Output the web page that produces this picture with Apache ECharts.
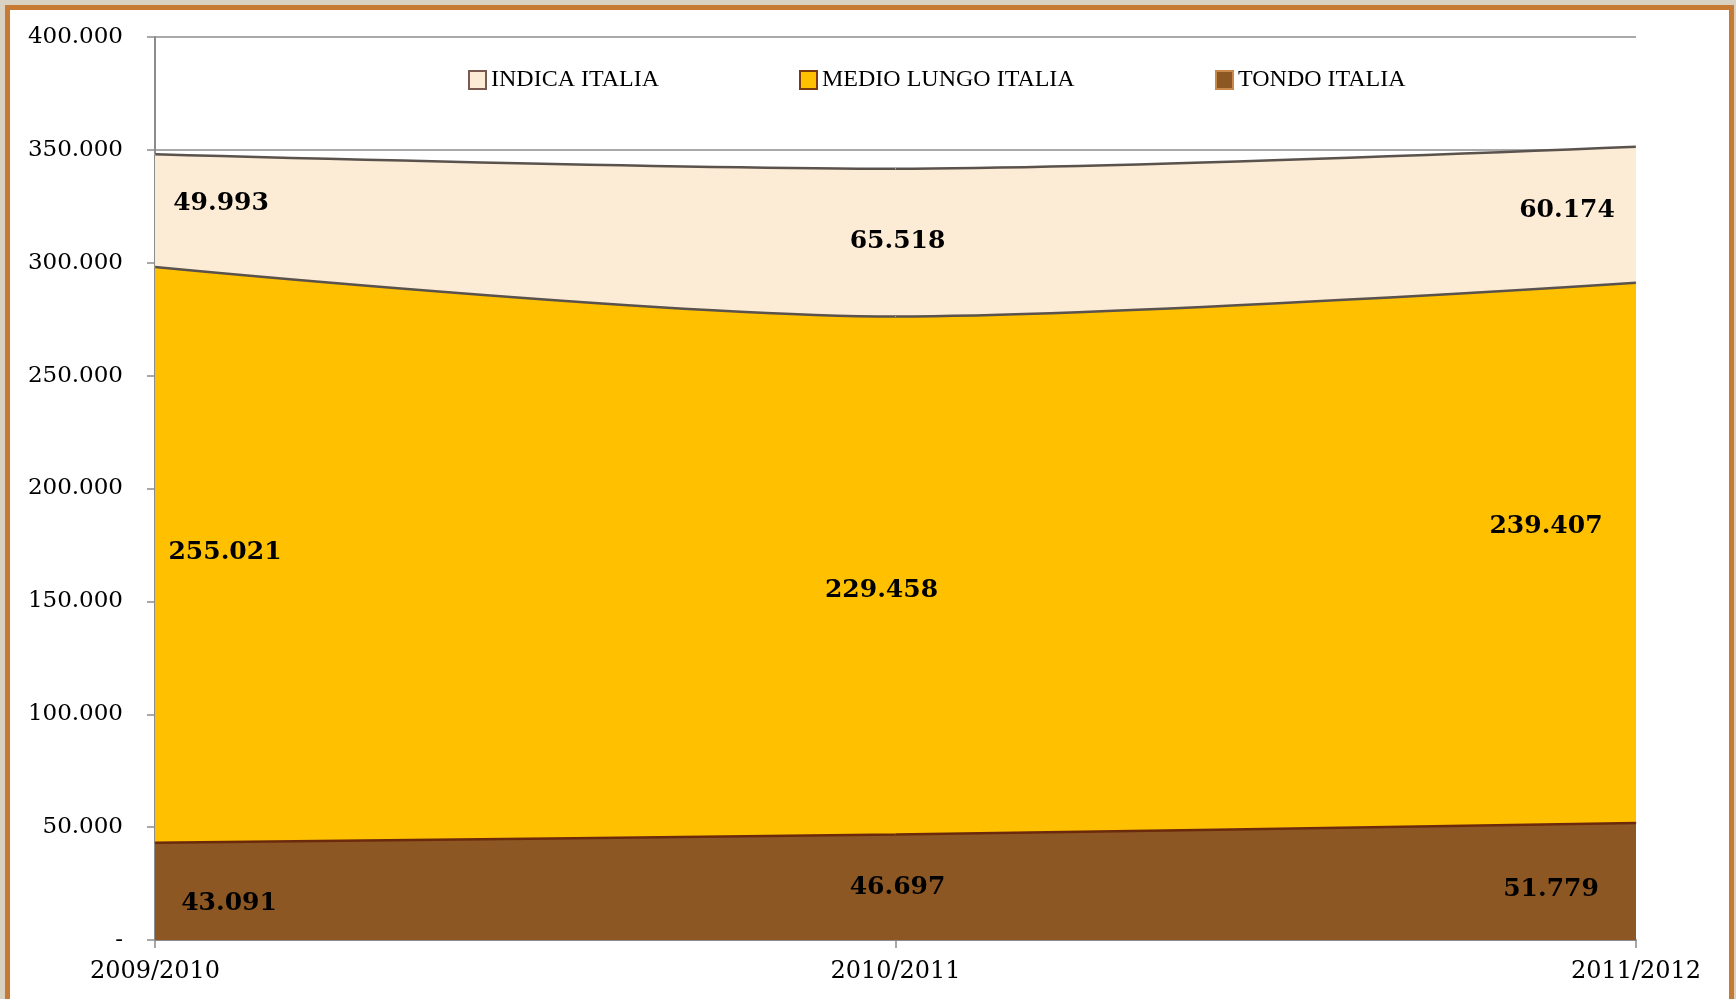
<!DOCTYPE html>
<html>
<head>
<meta charset="utf-8">
<script src="https://cdn.jsdelivr.net/npm/echarts@6.0.0/dist/echarts.min.js"></script>
<style>
    html, body { margin: 0; padding: 0; background: #d9d2c2; width: 1736px; height: 999px; overflow: hidden; }
    #panel { position: absolute; left: 5px; top: 5px; width: 1729px; height: 1100px; box-sizing: border-box;
             border: 5px solid #c67a33; background: #ffffff; }
    #chart { position: absolute; left: 0; top: 0; width: 1736px; height: 999px; }
</style>
</head>
<body>
<div id="panel"></div>
<div id="chart"></div>
<script>
var categories = ['2009/2010', '2010/2011', '2011/2012'];
var tondo = [43091, 46697, 51779];
var medioLungo = [255021, 229458, 239407];
var indica = [49993, 65518, 60174];
var legendNames = ['INDICA ITALIA', 'MEDIO LUNGO ITALIA', 'TONDO ITALIA'];

// where the value labels sit, relative to the stacked point
var tondoOffsets = [[74, 61], [2, 53], [-85, 66]];
var medioOffsets = [[70, 285], [-14, 274], [-90, 244]];
var indicaOffsets = [[66, 49], [2, 73], [-69, 64]];

function fmt(v) {
    if (v == 0) return '-';
    return String(v).replace(/\B(?=(\d{3})+(?!\d))/g, '.');
}

function withLabels(values, offsets) {
    var out = [];
    for (var i = 0; i < values.length; i++) {
        out.push({ value: values[i], label: { offset: offsets[i] } });
    }
    return out;
}

function makeSeries(name, values, offsets, fill, edge, z) {
    return {
        name: name,
        type: 'line',
        stack: 'total',
        smooth: 0.3,
        z: z,
        symbol: 'circle',
        symbolSize: 1,
        itemStyle: { color: fill },
        lineStyle: { color: edge, width: 2.5 },
        areaStyle: { color: fill, opacity: 1 },
        emphasis: { disabled: true },
        label: {
            show: true,
            position: 'inside',
            align: 'center',
            verticalAlign: 'middle',
            color: '#000',
            fontFamily: 'DejaVu Serif',
            fontWeight: 'bold',
            fontSize: 25,
            formatter: function (p) { return fmt(p.value); }
        },
        data: withLabels(values, offsets)
    };
}

var myChart = echarts.init(document.getElementById('chart'), null, { renderer: 'canvas' });

var legendBase = {
    icon: 'rect',
    itemWidth: 17,
    itemHeight: 18,
    top: 63,
    textStyle: { fontFamily: 'Liberation Serif', fontSize: 24, color: '#000' }
};

var option = {
    backgroundColor: 'transparent',
    animation: false,
    grid: { left: 155, top: 37, right: 100, bottom: 59 },
    legend: [
        Object.assign({}, legendBase, { left: 463, data: [{ name: legendNames[0], itemStyle: { color: '#fcebd5', borderColor: '#7a5a50', borderWidth: 2 } }] }),
        Object.assign({}, legendBase, { left: 794, data: [{ name: legendNames[1], itemStyle: { color: '#ffc000', borderColor: '#7a3a10', borderWidth: 2 } }] }),
        Object.assign({}, legendBase, { left: 1210, data: [{ name: legendNames[2], itemStyle: { color: '#8c5722', borderColor: '#c8894a', borderWidth: 2 } }] })
    ],
    xAxis: {
        type: 'category',
        boundaryGap: false,
        data: categories,
        axisLine: { lineStyle: { color: '#8c8c8c', width: 2 } },
        axisTick: { show: true, length: 8, lineStyle: { color: '#8c8c8c', width: 1.5 } },
        axisLabel: { margin: 20, color: '#000', fontFamily: 'DejaVu Serif', fontSize: 24 },
        splitLine: { show: false }
    },
    yAxis: {
        type: 'value',
        min: 0,
        max: 400000,
        interval: 50000,
        axisLine: { show: true, lineStyle: { color: '#8c8c8c', width: 2 } },
        axisTick: { show: true, length: 8, lineStyle: { color: '#8c8c8c', width: 1.5 } },
        axisLabel: { margin: 32, color: '#000', fontFamily: 'DejaVu Serif', fontSize: 23, formatter: fmt },
        splitLine: { show: true, lineStyle: { color: '#8c8c8c', width: 1.5 } }
    },
    series: [
        makeSeries(legendNames[2], tondo, tondoOffsets, '#8c5722', '#6b2a0c', 4),
        makeSeries(legendNames[1], medioLungo, medioOffsets, '#ffc000', '#5a524c', 3),
        makeSeries(legendNames[0], indica, indicaOffsets, '#fcebd5', '#5a524c', 2)
    ]
};

if (option && typeof option === 'object') {
    myChart.setOption(option);
}
</script>
</body>
</html>
